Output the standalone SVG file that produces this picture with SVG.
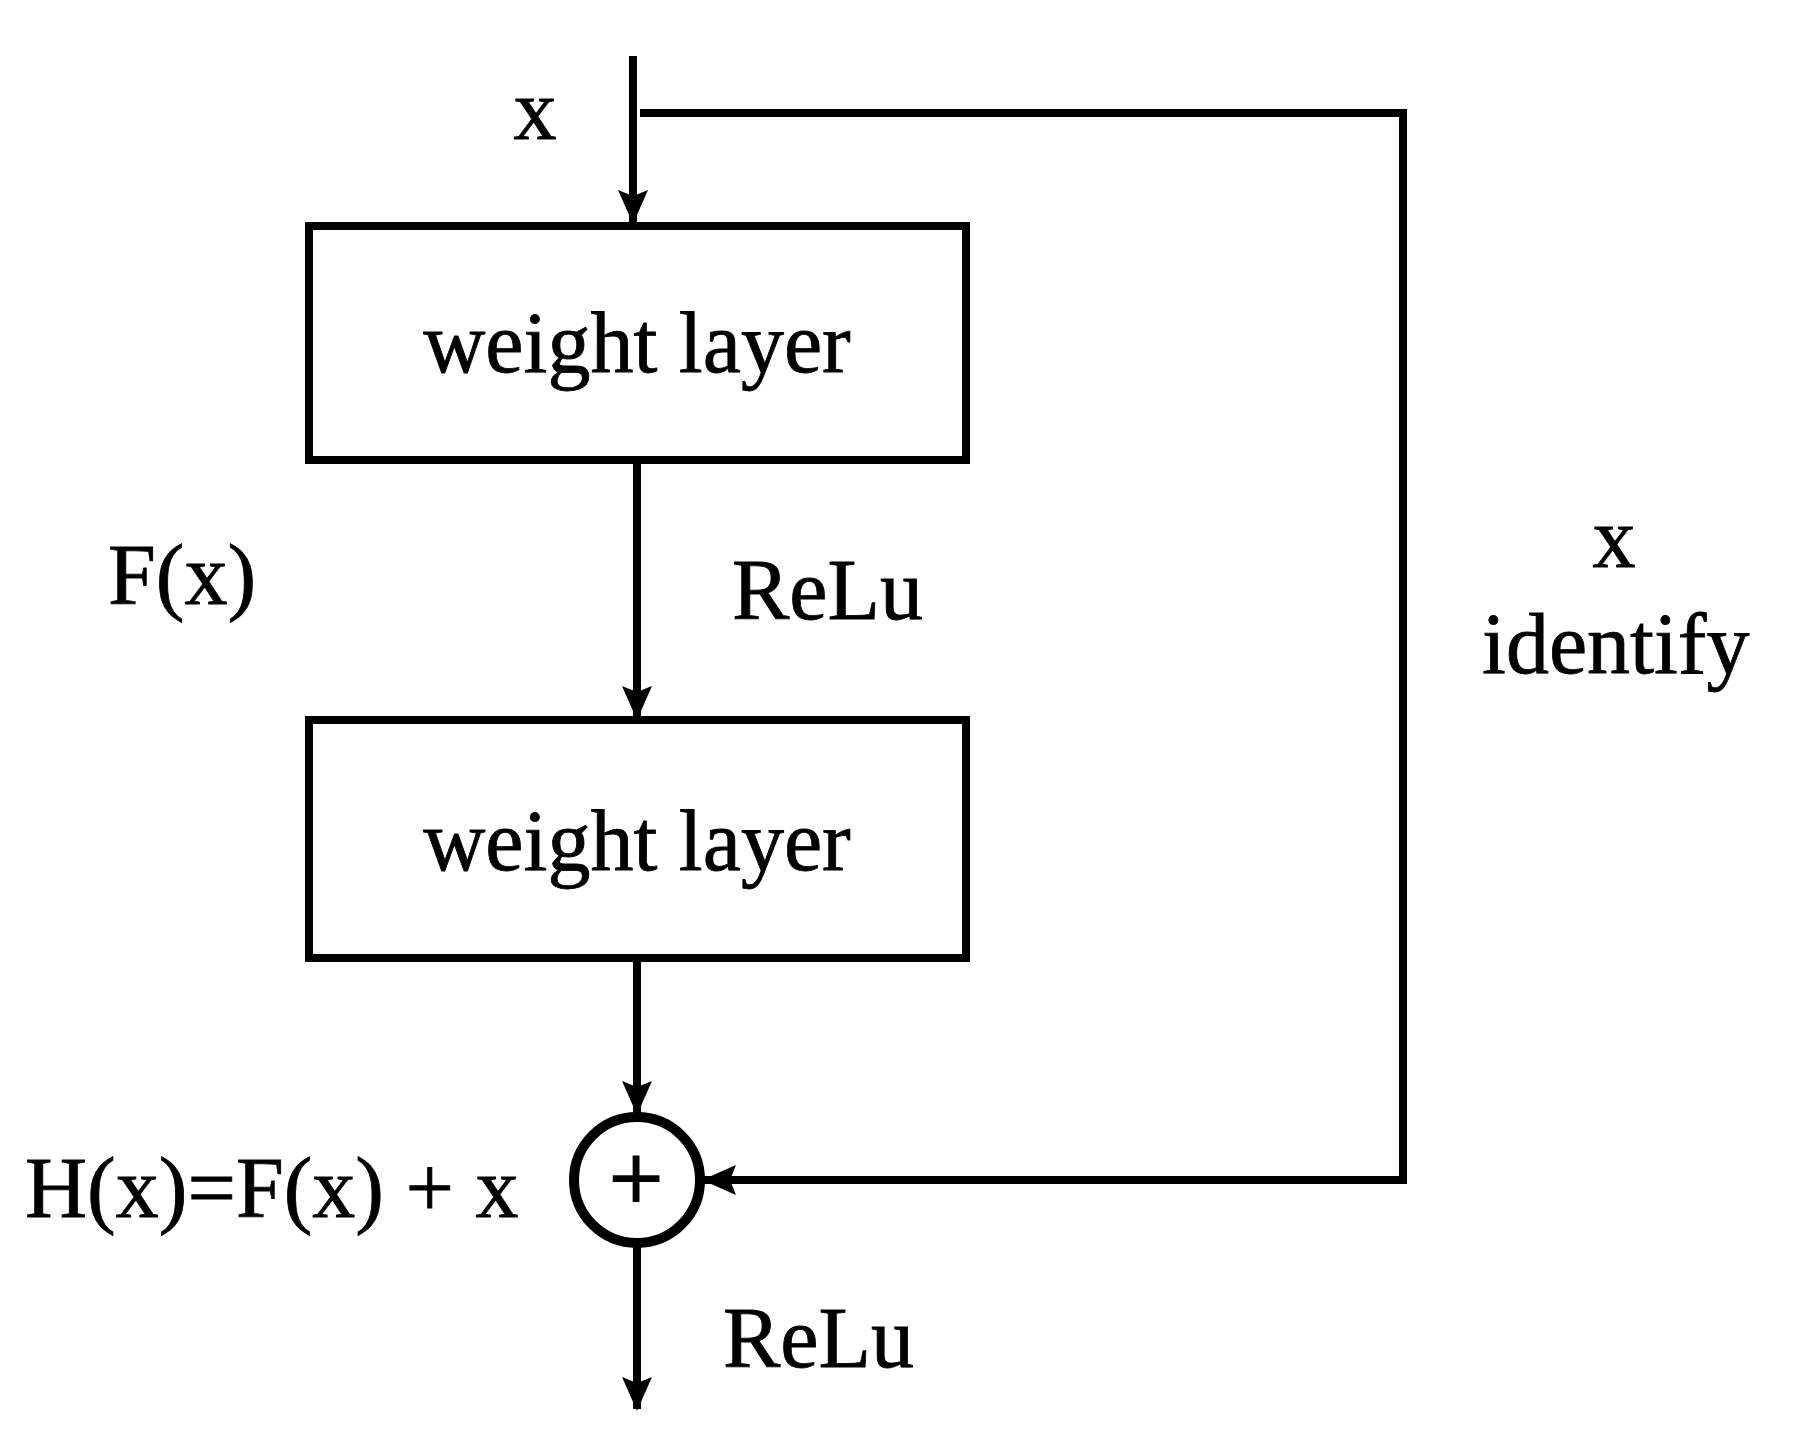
<svg xmlns="http://www.w3.org/2000/svg" width="1805" height="1450" viewBox="0 0 1805 1450">
<style>
text{font-family:"Liberation Serif","Times New Roman",serif;font-size:86px;fill:#000;stroke:#000;stroke-width:0.8}
.ln{stroke:#000;stroke-width:8;fill:none}
</style>
<defs><marker id="ah" viewBox="0 0 34 30" markerWidth="34" markerHeight="30" refX="32" refY="15" orient="auto" markerUnits="userSpaceOnUse"><path d="M0,0 L34,15 L0,30 L6,15 Z" fill="#000"/></marker></defs>
<rect width="1805" height="1450" fill="#fff"/>
<g id="connectors">
<path class="ln" d="M633,56 V222" marker-end="url(#ah)"/>
<path class="ln" d="M640,113 H1403 V1180 H704" marker-end="url(#ah)"/>
<path class="ln" d="M637,460 V718" marker-end="url(#ah)"/>
<path class="ln" d="M637,958 V1113" marker-end="url(#ah)"/>
<path class="ln" d="M637,1246 V1409" marker-end="url(#ah)"/>
</g>
<g id="box1"><rect class="ln" x="309" y="226" width="657" height="234"/><text x="637" y="372" text-anchor="middle">weight layer</text></g>
<g id="box2"><rect class="ln" x="309" y="720" width="657" height="238"/><text x="637" y="870" text-anchor="middle">weight layer</text></g>
<g id="sum"><circle cx="637" cy="1180" r="63" fill="none" stroke="#000" stroke-width="10"/><text x="636" y="1210" text-anchor="middle" style="font-size:96px;stroke-width:2">+</text></g>
<g id="labels">
<text x="535" y="139" text-anchor="middle">x</text>
<text x="108" y="604">F(x)</text>
<text x="732" y="619">ReLu</text>
<text x="1614" y="567" text-anchor="middle">x</text>
<text x="1482" y="673">identify</text>
<text x="25" y="1217">H(x)=F(x) + x</text>
<text x="723" y="1367">ReLu</text>
</g>
</svg>
